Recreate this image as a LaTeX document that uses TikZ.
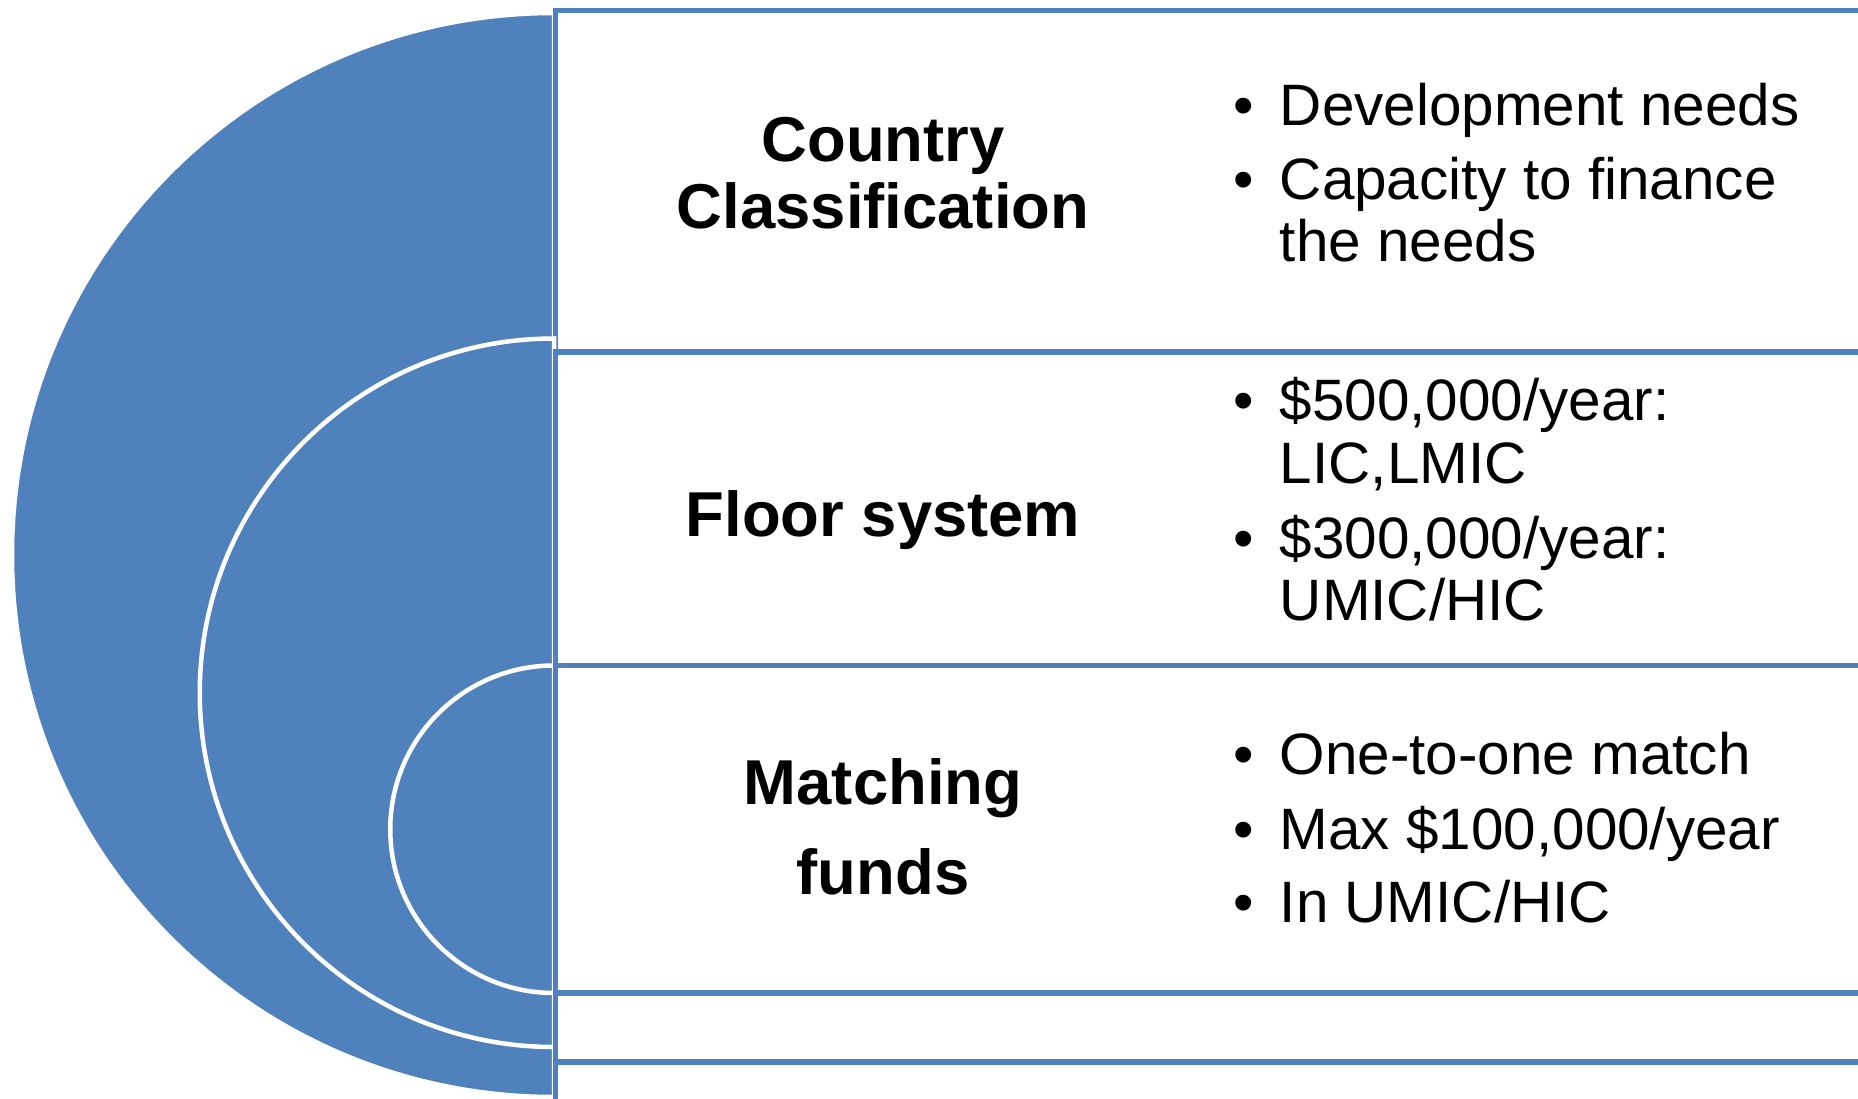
\documentclass[tikz,border=0pt]{standalone}
\usepackage{fontspec}
\setmainfont{Liberation Sans}
\definecolor{ringblue}{HTML}{4F81BD}
\tikzstyle{ring} = [fill=ringblue, 
draw=white, 
line width=2.25pt]
\tikzstyle{band} = [fill=white, 
draw=ringblue, 
line width=2.75pt]
\tikzstyle{title} = [anchor=base, 
inner sep=0pt, 
font=\fontsize{31.7}{31.7}\selectfont\bfseries]
\tikzstyle{item} = [anchor=base west, 
inner sep=0pt, 
font=\fontsize{29.2}{29.2}\selectfont]
\newcommand{\bul}{\makebox[0pt][r]{•\hspace{13.1pt}}}

\begin{document}
\begin{tikzpicture}[x=0.5pt, y=-0.5pt]
\useasboundingbox (0,0) rectangle (1858,1098);
\clip (0,0) rectangle (1858,1098);
% rings and bands, outer to inner
\path[ring] (554,13) arc[start angle=270, end angle=90, radius=542] -- cycle;
\draw[band] (555.5,10.5) rectangle (1900,1130);
\path[ring] (554,338.5) arc[start angle=270, end angle=90, radius=354.25] -- cycle;
\draw[band] (555.5,352) rectangle (1900,1062);
\path[ring] (554,665.5) arc[start angle=270, end angle=90, radius=163.75] -- cycle;
\draw[band] (555.5,665.5) rectangle (1900,993);

\node (country) [title] at (883,161) {Country};
\node (classif) [title] at (883,228) {Classification};
\node (floor) [title] at (883,536) {Floor system};
\node (matching) [title] at (883,804) {Matching};
\node (funds) [title] at (883,894) {funds};

\node (devneeds) [item] at (1279.5,125) {\bul Development needs};
\node (capacity) [item] at (1279.5,199) {\bul Capacity to finance};
\node (capacityb) [item] at (1279.5,261) {the needs};
\node (lowfloor) [item] at (1279.5,420) {\bul \$500,000/year:};
\node (lowfloorb) [item] at (1279.5,483) {LIC,LMIC};
\node (upfloor) [item] at (1279.5,558) {\bul \$300,000/year:};
\node (upfloorb) [item] at (1279.5,620) {UMIC/HIC};
\node (onetoone) [item] at (1279.5,774) {\bul One-to-one match};
\node (maxmatch) [item] at (1279.5,849) {\bul Max \$100,000/year};
\node (inumic) [item] at (1279.5,922) {\bul In UMIC/HIC};
\end{tikzpicture}
\end{document}
